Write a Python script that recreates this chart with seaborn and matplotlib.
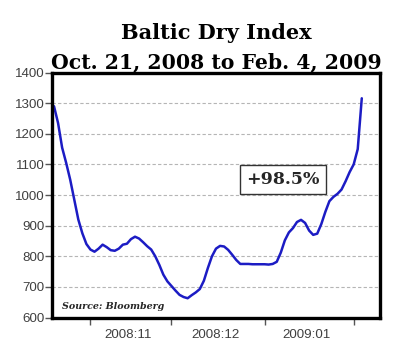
# Baltic Dry Index, Oct 21 2008 - Feb 4 2009 (daily, business days)

import pandas as pd
import seaborn as sns
import matplotlib.pyplot as plt

start_date = '2008-10-21'
end_date = '2009-02-04'

# index values, one per business day
bdi_values = [
    1290, 1235, 1155, 1105, 1050, 985, 920, 875, 840,            # Oct
    822, 815, 825, 838, 830, 820, 818, 825, 838, 841,             # Nov
    856, 864, 858, 846, 833, 822, 800, 772, 740, 718,
    703, 688, 674, 667, 663, 673, 682, 693, 720, 762,             # Dec
    800, 825, 834, 832, 821, 805, 788, 775, 775, 775,
    774, 774, 774,
    774, 773, 775, 782, 812, 852, 878, 892, 912, 919,             # Jan
    909, 884, 870, 874, 905, 945, 980, 994, 1004, 1018,
    1045, 1075,
    1100, 1150, 1316,                                             # Feb
]
month_labels = ['2008:11', '2008:12', '2009:01']
y_ticks = [600, 700, 800, 900, 1000, 1100, 1200, 1300, 1400]
note_text = '+98.5%'
source_text = 'Source: Bloomberg'

dates = pd.bdate_range(start_date, end_date)
df = pd.DataFrame({'date': dates, 'bdi': bdi_values})
df['obs'] = range(len(df))

sns.set_style('white')
plt.rcParams['font.family'] = ['Liberation Sans', 'DejaVu Sans']

fig = plt.figure(figsize=(4, 3.54), dpi=100)
ax = fig.add_axes([0.131, 0.103, 0.819, 0.692])

sns.lineplot(data=df, x='obs', y='bdi', ax=ax, color='#1c1cc4', linewidth=1.8)

ax.set_xlim(-0.4, 80.5)
ax.set_ylim(600, 1400)
ax.set_yticks(y_ticks)
ax.set_xlabel('')
ax.set_ylabel('')

# month ticks at first observation of each month, labels in between
first_obs = df.groupby(df['date'].dt.to_period('M'))['obs'].min().tolist()[1:]
ax.set_xticks(first_obs)
ax.set_xticklabels([])
mids = [(a + b) / 2 - 0.6 for a, b in zip(first_obs[:-1], first_obs[1:])]
ax.set_xticks(mids, minor=True)
ax.set_xticklabels(month_labels, minor=True)
ax.tick_params(axis='x', which='minor', length=0, pad=8, labelsize=9.6, labelcolor='#404040')
ax.tick_params(axis='x', which='major', length=5, width=1, color='#555555', direction='out', bottom=True)
ax.tick_params(axis='y', length=5, width=1, color='#555555', direction='out', left=True,
               labelsize=9.6, labelcolor='#404040', pad=0.5)

for y in y_ticks[1:-1]:
    ax.axhline(y, color='#b5b5b5', linewidth=0.8, linestyle=(0, (3, 2)), zorder=0)

for side in ax.spines.values():
    side.set_linewidth(2.4)
    side.set_color('black')

ax.text(56.5, 1051, note_text, ha='center', va='center', fontsize=12.5, fontweight='bold',
        family='DejaVu Serif',
        bbox=dict(boxstyle='square,pad=0.35', facecolor='white', edgecolor='#333333', linewidth=1))
ax.text(0.03, 0.045, source_text, transform=ax.transAxes, ha='left', va='center',
        fontsize=6.8, fontweight='bold', fontstyle='italic', family='DejaVu Serif')

fig.text(0.54, 0.907, 'Baltic Dry Index', ha='center', va='center', fontsize=15,
         fontweight='bold', family='DejaVu Serif', color='black')
fig.text(0.54, 0.825, 'Oct. 21, 2008 to Feb. 4, 2009', ha='center', va='center', fontsize=14.7,
         fontweight='bold', family='DejaVu Serif', color='black')

plt.savefig('out.png', dpi=100)
